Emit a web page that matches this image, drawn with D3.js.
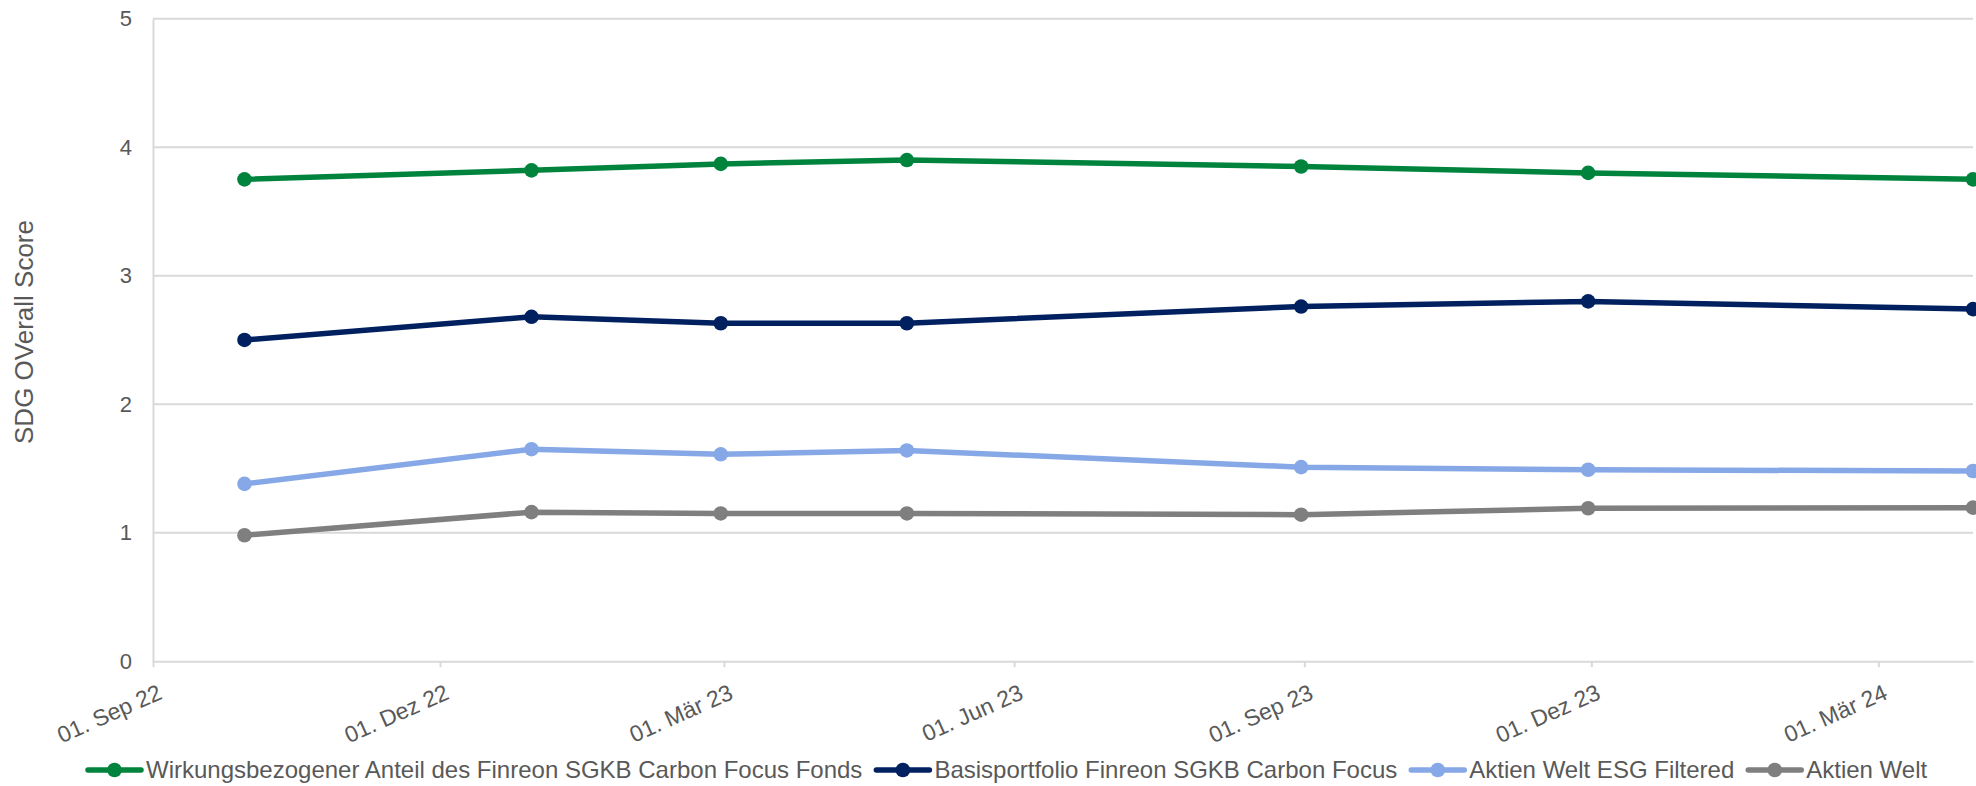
<!DOCTYPE html>
<html>
<head>
<meta charset="utf-8">
<script src="https://cdn.jsdelivr.net/npm/d3@7"></script>
<style>
  html, body { margin: 0; padding: 0; background: #fff; }
  svg { display: block; font-family: "Liberation Sans", Arial, sans-serif; }
</style>
</head>
<body>
<svg id="chart" width="1976" height="786"></svg>
<script>
// ---- data ----
const dates = ["2022-09-30", "2022-12-30", "2023-02-28", "2023-04-28", "2023-08-31", "2023-11-30", "2024-03-31"];
const seriesNames = [
  "Wirkungsbezogener Anteil des Finreon SGKB Carbon Focus Fonds",
  "Basisportfolio Finreon SGKB Carbon Focus",
  "Aktien Welt ESG Filtered",
  "Aktien Welt"
];
const wirkungsbezogen = [3.75, 3.82, 3.87, 3.90, 3.85, 3.80, 3.75];
const basisportfolio  = [2.50, 2.68, 2.63, 2.63, 2.76, 2.80, 2.74];
const aktienWeltESG   = [1.38, 1.65, 1.61, 1.64, 1.51, 1.49, 1.48];
const aktienWelt      = [0.98, 1.16, 1.15, 1.15, 1.14, 1.19, 1.195];
const xTickDates  = ["2022-09-01", "2022-12-01", "2023-03-01", "2023-06-01", "2023-09-01", "2023-12-01", "2024-03-01"];
const xTickLabels = ["01. Sep 22", "01. Dez 22", "01. Mär 23", "01. Jun 23", "01. Sep 23", "01. Dez 23", "01. Mär 24"];
const yTicks = [0, 1, 2, 3, 4, 5];
const yTitle = "SDG OVerall Score";
const colors = ["#00843d", "#002060", "#86a8e7", "#7f7f7f"];

(function () {
// ---- setup ----
const parse = d3.utcParse("%Y-%m-%d");
const seriesValues = [wirkungsbezogen, basisportfolio, aktienWeltESG, aktienWelt];
const series = seriesNames.map((name, i) => ({
  name, color: colors[i],
  points: dates.map((d, j) => ({ date: parse(d), value: seriesValues[i][j] }))
}));

const svg = d3.select("#chart");
const pLeft = 153, pRight = 1973, pTop = 18.7, pBottom = 661.2;

const x = d3.scaleUtc()
  .domain([parse("2022-09-01"), parse(dates[dates.length - 1])])
  .range([pLeft, pRight]);
const y = d3.scaleLinear().domain([0, 5]).range([pBottom, pTop]);

const textColor = "#595959";
const gridColor = "#d9d9d9";

// gridlines
svg.append("g")
  .selectAll("line").data(yTicks.filter(t => t > 0)).join("line")
  .attr("x1", pLeft).attr("x2", pRight)
  .attr("y1", d => y(d)).attr("y2", d => y(d))
  .attr("stroke", gridColor).attr("stroke-width", 2);

// y axis
const yAxis = svg.append("g")
  .attr("transform", `translate(${pLeft},0)`)
  .call(d3.axisLeft(y).tickValues(yTicks).tickFormat(d3.format("d")).tickSize(0).tickPadding(21));
yAxis.select(".domain").attr("stroke", gridColor).attr("stroke-width", 2);
yAxis.selectAll("text")
  .attr("fill", textColor)
  .style("font-size", "22px")
  .style("font-family", "'Liberation Sans', Arial, sans-serif");

// x axis
const xAxis = svg.append("g")
  .attr("transform", `translate(0,${pBottom})`)
  .call(d3.axisBottom(x)
    .tickValues(xTickDates.map(parse))
    .tickFormat((d, i) => xTickLabels[i])
    .tickSize(6).tickSizeOuter(0));
xAxis.select(".domain").attr("stroke", gridColor).attr("stroke-width", 2);
xAxis.selectAll(".tick line").attr("stroke", gridColor).attr("stroke-width", 2);
xAxis.selectAll("text")
  .attr("fill", textColor)
  .style("font-size", "23px")
  .style("font-family", "'Liberation Sans', Arial, sans-serif")
  .attr("text-anchor", "end")
  .attr("dy", null)
  .attr("y", 0)
  .attr("transform", "translate(10,37) rotate(-24)");

// y title
svg.append("text")
  .attr("transform", "translate(33,332) rotate(-90)")
  .attr("text-anchor", "middle")
  .attr("fill", textColor)
  .style("font-size", "26px")
  .text(yTitle);

// lines
const line = d3.line().x(d => x(d.date)).y(d => y(d.value));
series.forEach(s => {
  const g = svg.append("g");
  g.append("path")
    .datum(s.points)
    .attr("d", line)
    .attr("fill", "none")
    .attr("stroke", s.color)
    .attr("stroke-width", 5.5)
    .attr("stroke-linejoin", "round")
    .attr("stroke-linecap", "round");
  g.selectAll("circle").data(s.points).join("circle")
    .attr("cx", d => x(d.date)).attr("cy", d => y(d.value))
    .attr("r", 7.3)
    .attr("fill", s.color);
});

// legend
const legend = svg.append("g").attr("transform", "translate(0,770)");
let lx = 88;
series.forEach(s => {
  const item = legend.append("g").attr("transform", `translate(${lx},0)`);
  item.append("line").attr("x1", 0).attr("x2", 53).attr("y1", 0).attr("y2", 0)
    .attr("stroke", s.color).attr("stroke-width", 5.5).attr("stroke-linecap", "round");
  item.append("circle").attr("cx", 26.5).attr("cy", 0).attr("r", 7.3).attr("fill", s.color);
  const t = item.append("text").attr("x", 58).attr("y", 0).attr("dy", "0.35em")
    .attr("fill", textColor).style("font-size", "24px").text(s.name);
  lx += 58 + t.node().getComputedTextLength() + 14;
});
})();
</script>
</body>
</html>
